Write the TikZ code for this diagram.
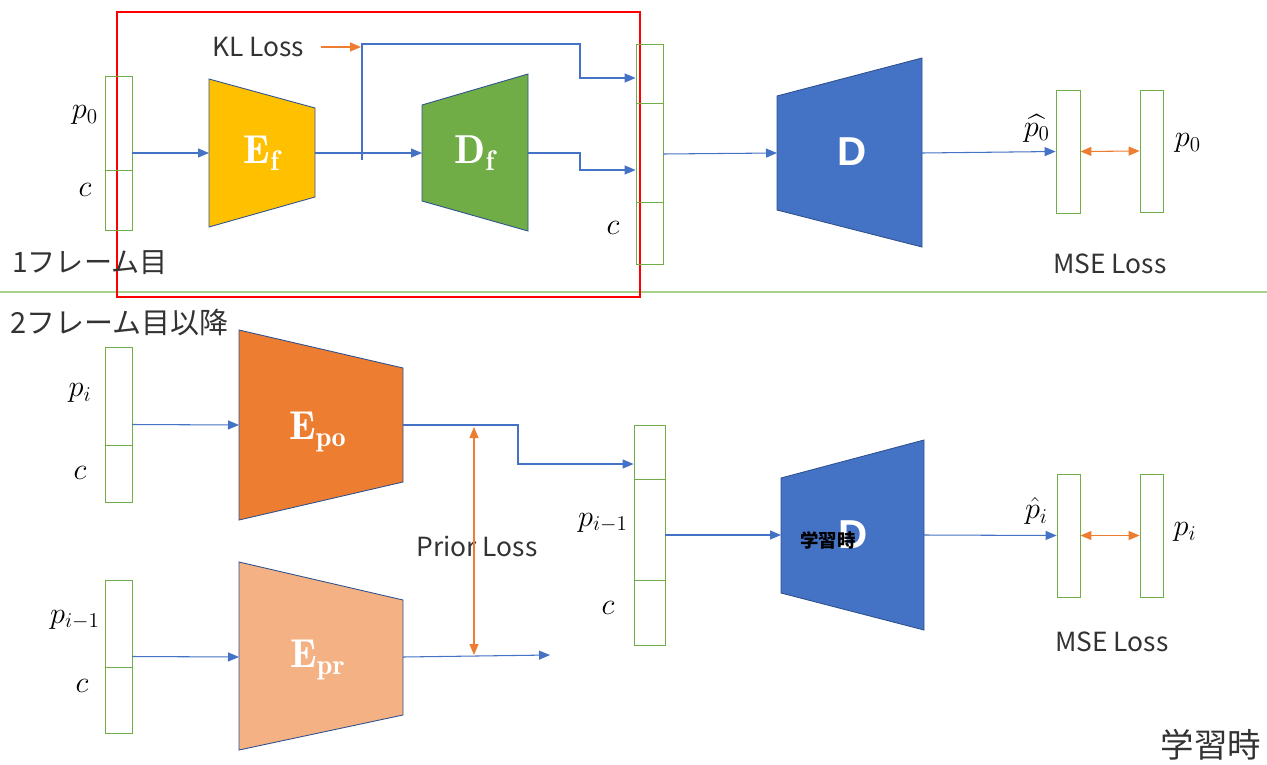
\documentclass[tikz,border=0pt]{standalone}
\usepackage{amsmath}
\usepackage{fontspec}
\setsansfont{Liberation Sans}
\newfontfamily\jpfont{Noto Sans CJK JP}
\usetikzlibrary{arrows.meta}

\definecolor{flowblue}{HTML}{4472C4}
\definecolor{lossorange}{HTML}{ED7D31}
\definecolor{vecgreen}{HTML}{70AD47}
\definecolor{sepgreen}{HTML}{A9D18E}
\definecolor{netborder}{HTML}{2F528F}
\definecolor{efyellow}{HTML}{FFC000}
\definecolor{dfgreen}{HTML}{70AD47}
\definecolor{dblue}{HTML}{4472C4}
\definecolor{poorange}{HTML}{ED7D31}
\definecolor{prpeach}{HTML}{F4B183}

\tikzset{
  vec/.style={draw=vecgreen, line width=0.45pt, minimum width=5.4mm, inner sep=0pt},
  flow/.style={draw=flowblue, line width=0.6pt, -{Triangle[length=2.2mm,width=1.8mm]}},
  kick/.style={draw=lossorange, line width=0.6pt, -{Triangle[length=2.2mm,width=1.8mm]}},
  loss/.style={draw=lossorange, line width=0.6pt, {Triangle[length=2.2mm,width=1.8mm]}-{Triangle[length=2.2mm,width=1.8mm]}},
  net/.style={draw=netborder, line width=0.5pt},
  netlabel/.style={text=white, font=\fontsize{23}{23}\selectfont},
  note/.style={font=\jpfont\fontsize{15}{15}\selectfont, text=black!80},
  mlbl/.style={font=\fontsize{18}{18}\selectfont, inner sep=1pt},
}

\begin{document}
\begin{tikzpicture}[x=0.02cm, y=-0.02cm]
\useasboundingbox (0,0) rectangle (1267,764);

% 1st frame
\draw[sepgreen, line width=0.6pt] (0,292) -- (1267,292);
\draw[red, line width=1.3pt] (117,12) rectangle (640,297);
\node[note, anchor=west, font=\jpfont\fontsize{16}{16}\selectfont] (frame1) at (6,263) {1フレーム目};

\node[vec, minimum height=3.08cm] (in0) at (118.5,153) {};
\draw[vecgreen, line width=0.45pt] (in0.west |- 0,170) -- (in0.east |- 0,170);
\node[mlbl] (p0lbl) at (85,115) {$p_0$};
\node[mlbl] (c0lbl) at (85,190) {$c$};

\draw[net, fill=efyellow] (209,79) -- (315,108) -- (315,197) -- (209,227) -- cycle;
\node[netlabel] (ef) at (262,153) {$\mathbf{E_f}$};
\coordinate (ef-in) at (209,153);
\coordinate (ef-out) at (315,153);

\draw[net, fill=dfgreen] (422,105) -- (528,74) -- (528,231) -- (422,201) -- cycle;
\node[netlabel] (df) at (475,153) {$\mathbf{D_f}$};
\coordinate (df-in) at (422,153);
\coordinate (df-out) at (528,153);

\node[vec, minimum height=4.4cm] (z0) at (649.5,154) {};
\draw[vecgreen, line width=0.45pt] (z0.west |- 0,103) -- (z0.east |- 0,103);
\draw[vecgreen, line width=0.45pt] (z0.west |- 0,202) -- (z0.east |- 0,202);
\node[mlbl] (cz0lbl) at (613,228) {$c$};

\draw[net, fill=dblue] (777,96) -- (922,58) -- (922,247) -- (777,210) -- cycle;
\node[netlabel, font=\sffamily\bfseries\fontsize{23}{23}\selectfont] (d0) at (852,152) {D};
\coordinate (d0-in) at (777,153);
\coordinate (d0-out) at (922,153);

\node[vec, minimum width=4.8mm, minimum height=2.46cm] (out0) at (1068,151.5) {};
\node[vec, minimum width=4.6mm, minimum height=2.44cm] (tgt0) at (1151.5,151) {};
\node[mlbl, anchor=east] (hp0lbl) at (1052,128) {$\widehat{p_0}$};
\node[mlbl] (tp0lbl) at (1188,143) {$p_0$};
\node[note] (mse0) at (1110,264) {MSE Loss};

\coordinate (kl-split) at (362,160);
\coordinate (kl-hit) at (361,47);
\node[note] (kl) at (258,47) {KL Loss};

\draw[flow] (in0.east) -- (ef-in);
\draw[flow] (ef-out) -- (df-in);
\draw[flow] (kl-split) -- (362,44) -- (580,44) -- (580,78) -- (z0.west |- 0,78);
\draw[kick] (kl.east) ++(6pt,0) -- (kl-hit);
\draw[flow] (df-out) -- (580,153) -- (580,170) -- (z0.west |- 0,170);
\draw[flow] (z0.east) -- (d0-in);
\draw[flow] (d0-out) -- (out0.west);
\draw[loss] (out0.east) -- (tgt0.west);

% 2nd frame and later
\node[note, anchor=west, font=\jpfont\fontsize{16.5}{16.5}\selectfont] (frame2) at (4,323) {2フレーム目以降};

\node[vec, minimum height=3.1cm] (in1) at (118.5,424.5) {};
\draw[vecgreen, line width=0.45pt] (in1.west |- 0,445) -- (in1.east |- 0,445);
\node[mlbl] (pilbl) at (80,393) {$p_i$};
\node[mlbl] (c1lbl) at (80,473) {$c$};

\node[vec, minimum height=3.06cm] (in2) at (118.5,656.5) {};
\draw[vecgreen, line width=0.45pt] (in2.west |- 0,667) -- (in2.east |- 0,667);
\node[mlbl] (pmlbl) at (75,620) {$p_{i-1}$};
\node[mlbl] (c2lbl) at (82,686) {$c$};

\draw[net, fill=poorange] (239,330) -- (403,368) -- (403,482) -- (239,520) -- cycle;
\node[netlabel] (epo) at (318,432) {$\mathbf{E_{po}}$};
\coordinate (epo-in) at (239,425);
\coordinate (epo-out) at (403,425);

\draw[net, fill=prpeach] (239,562) -- (403,600) -- (403,715) -- (239,750) -- cycle;
\node[netlabel] (epr) at (318,660) {$\mathbf{E_{pr}}$};
\coordinate (epr-in) at (239,657);
\coordinate (epr-out) at (403,657);
\coordinate (epr-end) at (550,655);

\coordinate (pl-top) at (474,427);
\coordinate (pl-bot) at (474,655);
\node[note] (prior) at (477,546) {Prior Loss};

\node[vec, minimum width=6.2mm, minimum height=4.4cm] (z1) at (649.5,535) {};
\draw[vecgreen, line width=0.45pt] (z1.west |- 0,479) -- (z1.east |- 0,479);
\draw[vecgreen, line width=0.45pt] (z1.west |- 0,580) -- (z1.east |- 0,580);
\node[mlbl] (pz1lbl) at (603,523) {$p_{i-1}$};
\node[mlbl] (cz1lbl) at (608,608) {$c$};

\draw[net, fill=dblue] (781,478) -- (924,440) -- (924,630) -- (781,593) -- cycle;
\node[netlabel, font=\sffamily\bfseries\fontsize{23}{23}\selectfont] (d1) at (853,535) {D};
\node[font=\jpfont\bfseries\fontsize{10.5}{10.5}\selectfont] (train) at (828,540) {学習時};
\coordinate (d1-in) at (781,535);
\coordinate (d1-out) at (924,535);

\node[vec, minimum width=4.6mm, minimum height=2.46cm] (out1) at (1068.5,535.5) {};
\node[vec, minimum width=4.6mm, minimum height=2.46cm] (tgt1) at (1151.5,535.5) {};
\node[mlbl, anchor=east] (hpilbl) at (1050,511) {$\hat{p}_i$};
\node[mlbl] (tpilbl) at (1185,532) {$p_i$};
\node[note] (mse1) at (1112,642) {MSE Loss};

\draw[flow] (in1.east) -- (epo-in);
\draw[flow] (in2.east) -- (epr-in);
\draw[flow] (epo-out) -- (518,425) -- (518,464) -- (z1.west |- 0,464);
\draw[flow] (epr-out) -- (epr-end);
\draw[loss] (pl-top) -- (pl-bot);
\draw[flow] (z1.east) -- (d1-in);
\draw[flow] (d1-out) -- (out1.west);
\draw[loss] (out1.east) -- (tgt1.west);

\node[note, font=\jpfont\fontsize{19}{19}\selectfont, anchor=east] (mode) at (1267,745) {学習時};
\end{tikzpicture}
\end{document}
